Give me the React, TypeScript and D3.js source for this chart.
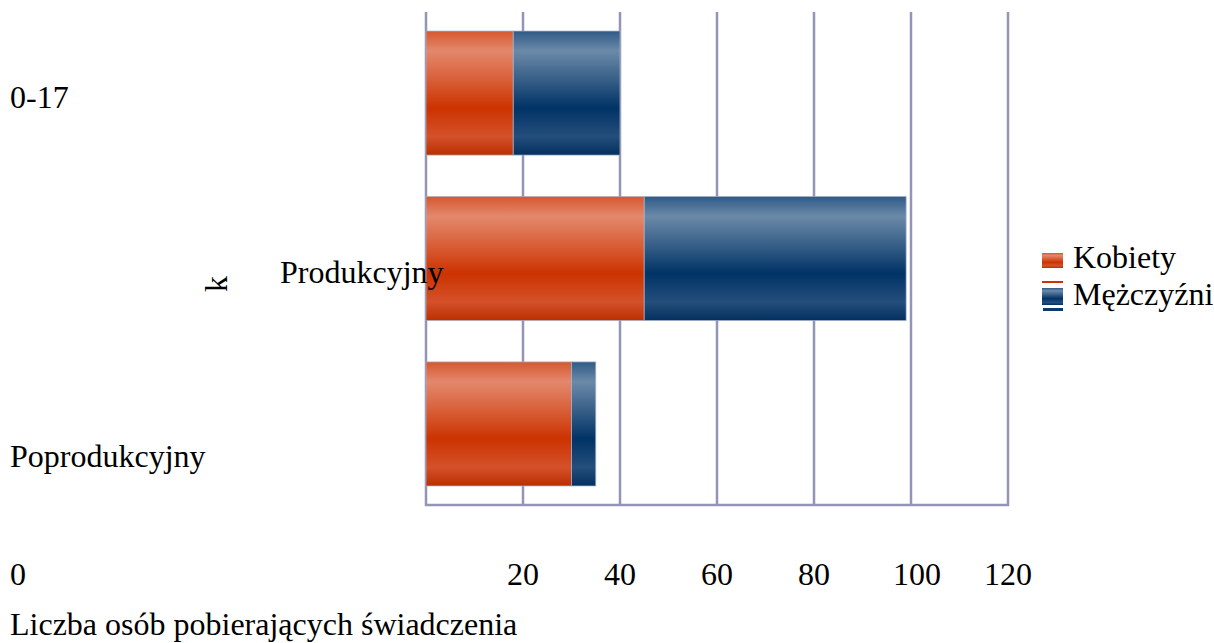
import React from "react";
import * as d3 from "d3";

const categories = ["0-17", "Produkcyjny", "Poprodukcyjny"];
const kobiety = [18, 45, 30];
const mezczyzni = [22, 54, 5];
const seriesNames = ["Kobiety", "Mężczyźni"];
const tickValues = [0, 20, 40, 60, 80, 100, 120];
const xTitle = "Liczba osób pobierających świadczenia";
const yTitle = "k";

const W = 1214;
const H = 643;
const FF = '"Liberation Serif", "Tinos", "Times New Roman", "FreeSerif"';

function T(props: any) {
  const { children, ...rest } = props;
  return (
    <text fontFamily={FF} fontSize={32} fill="#000" style={{ fontFamily: FF, fontSize: "32px" }} {...rest}>
      {children}
    </text>
  );
}

export default function App() {
  const x = d3.scaleLinear().domain([0, 120]).range([426, 1008]);
  const y = d3
    .scaleBand<string>()
    .domain(categories)
    .range([12, 505])
    .paddingInner(0.25)
    .paddingOuter(0.115);

  const stacked = d3.stack<any>().keys(["k", "m"])(
    categories.map((c, i) => ({ cat: c, k: kobiety[i], m: mezczyzni[i] }))
  );
  const fills = ["url(#gOrange)", "url(#gBlue)"];
  const grid = "#9394b6";

  const labelY: Record<string, number> = {
    "0-17": 108,
    Produkcyjny: 283,
    Poprodukcyjny: 467,
  };
  const labelX: Record<string, number> = {
    "0-17": 10,
    Produkcyjny: 280,
    Poprodukcyjny: 10,
  };

  return (
    <svg
      width={W}
      height={H}
      fontFamily={FF}
      style={{ position: "absolute", left: 0, top: 0, background: "#fff", fontFamily: FF }}
    >
      <defs>
        <linearGradient id="gOrange" x1="0" y1="0" x2="0" y2="1">
          <stop offset="0" stopColor="#d6582f" />
          <stop offset="0.16" stopColor="#e3886d" />
          <stop offset="0.38" stopColor="#d9613b" />
          <stop offset="0.62" stopColor="#cc3300" />
          <stop offset="0.85" stopColor="#d4512a" />
          <stop offset="1" stopColor="#ba2f00" />
        </linearGradient>
        <linearGradient id="gBlue" x1="0" y1="0" x2="0" y2="1">
          <stop offset="0" stopColor="#2f5a86" />
          <stop offset="0.16" stopColor="#6b8aa9" />
          <stop offset="0.38" stopColor="#3a6189" />
          <stop offset="0.62" stopColor="#003366" />
          <stop offset="0.85" stopColor="#244e7b" />
          <stop offset="1" stopColor="#03305f" />
        </linearGradient>
      </defs>

      {/* gridlines */}
      {tickValues.map((t) => (
        <line
          key={t}
          x1={x(t)}
          x2={x(t)}
          y1={12}
          y2={506}
          stroke={grid}
          strokeWidth={2.5}
        />
      ))}
      <line x1={x(0) - 1} x2={x(120) + 1} y1={505} y2={505} stroke={grid} strokeWidth={2.5} />

      {/* bars */}
      {stacked.map((s, si) =>
        s.map((d, i) => (
          <rect
            key={si + "-" + i}
            x={x(d[0])}
            y={y(categories[i])}
            width={x(d[1]) - x(d[0])}
            height={y.bandwidth()}
            fill={fills[si]}
            stroke="rgba(170,180,205,0.7)"
            strokeWidth={1}
          />
        ))
      )}

      {/* category labels */}
      {categories.map((c) => (
        <T key={c} x={labelX[c]} y={labelY[c]}>
          {c}
        </T>
      ))}

      {/* y title (truncated) */}
      <T transform="translate(227,292) rotate(-90)">{yTitle}</T>

      {/* tick labels */}
      {tickValues.map((t) => (
        <T
          key={t}
          x={t === 0 ? 10 : x(t) + (t === 100 ? 6 : 0)}
          y={585}
          textAnchor={t === 0 ? "start" : "middle"}
        >
          {t}
        </T>
      ))}

      {/* x title */}
      <T x={10} y={635}>
        {xTitle}
      </T>

      {/* legend */}
      <rect x={1042} y={253} width={21} height={15} fill="url(#gOrange)" />
      <T x={1073} y={268}>
        {seriesNames[0]}
      </T>
      <rect x={1042} y={281} width={21} height={2} fill="#cc3300" />
      <rect x={1042} y={288} width={21} height={17} fill="url(#gBlue)" />
      <rect x={1043} y={308} width={20} height={3} fill="#0b3a6b" />
      <T x={1073} y={305}>
        {seriesNames[1]}
      </T>
    </svg>
  );
}
